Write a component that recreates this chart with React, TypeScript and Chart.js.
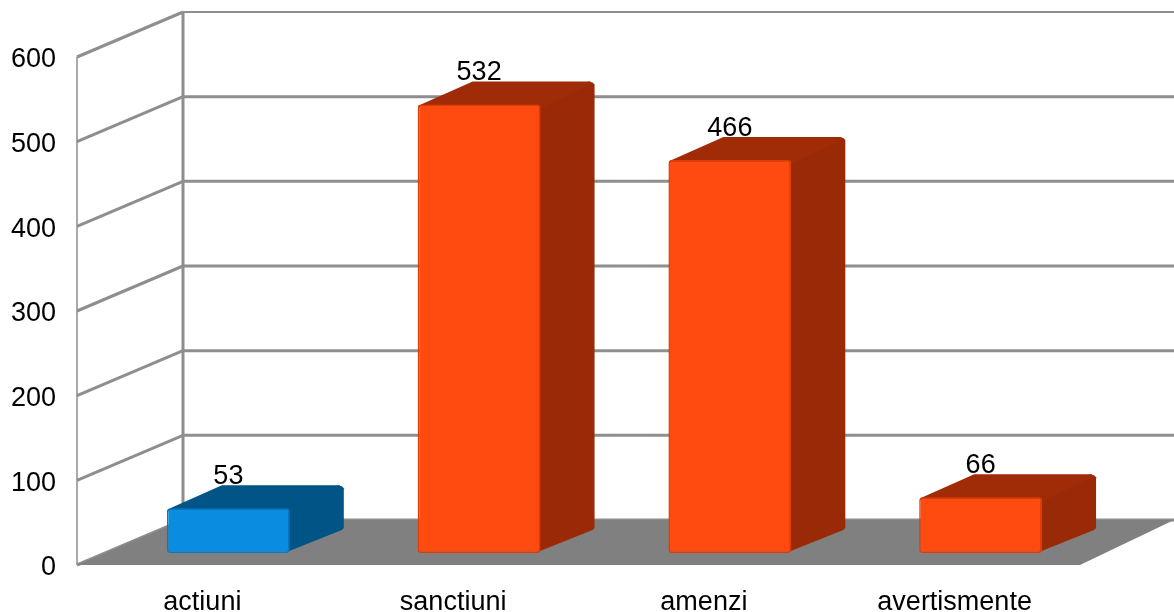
import React, { useEffect, useRef } from "react";
import { Chart, registerables } from "chart.js";

Chart.register(...registerables);

const categories = ["actiuni", "sanctiuni", "amenzi", "avertismente"];
const values = [53, 532, 466, 66];
const yTicks = [0, 100, 200, 300, 400, 500, 600];

const FONT = { family: "'Liberation Sans', Arial, sans-serif", size: 27 };
const WALL_DX = 106;
const WALL_DY = -45;
const BAR_DX = 26;
const BAR_DY = -12;
const SIDE_DX = 54;
const SIDE_DY = -23;
const GRID = "#8e8e8e";
const FLOOR = "#808080";

const palette = (v: number) =>
  v === values[0]
    ? { front: "#0a8ce0", edge: "#0c78c0", side: "#005586", top: "#005586" }
    : { front: "#ff4a10", edge: "#dc3c0a", side: "#9a2a07", top: "#a02c07" };

const poly = (ctx: CanvasRenderingContext2D, pts: number[][], fill: string) => {
  ctx.beginPath();
  pts.forEach(([x, y], i) => (i ? ctx.lineTo(x, y) : ctx.moveTo(x, y)));
  ctx.closePath();
  ctx.fillStyle = fill;
  ctx.fill();
};

const threeD = {
  id: "threeD",
  beforeDatasetsDraw(chart: any) {
    const { ctx, chartArea: a, scales } = chart;
    const yS = scales.y;
    const y0 = yS.getPixelForValue(0);
    const yTop = yS.getPixelForValue(yTicks[yTicks.length - 1]);
    const W = chart.width;
    ctx.save();
    ctx.strokeStyle = GRID;
    ctx.lineWidth = 1.5;
    ctx.beginPath();
    ctx.moveTo(a.left, yTop);
    ctx.lineTo(a.left, y0);
    ctx.stroke();
    ctx.lineWidth = 3;
    ctx.beginPath();
    ctx.moveTo(a.left + WALL_DX, yTop + WALL_DY);
    ctx.lineTo(a.left + WALL_DX, y0 + WALL_DY);
    ctx.stroke();
    yTicks.forEach((t) => {
      const y = yS.getPixelForValue(t);
      ctx.lineWidth = 3;
      ctx.strokeStyle = GRID;
      ctx.beginPath();
      ctx.moveTo(a.left, y);
      ctx.lineTo(a.left + WALL_DX, y + WALL_DY);
      ctx.stroke();
      ctx.lineWidth = t === yTicks[yTicks.length - 1] ? 2 : 3;
      ctx.beginPath();
      ctx.moveTo(a.left + WALL_DX, y + WALL_DY);
      ctx.lineTo(W, y + WALL_DY);
      ctx.stroke();
    });
    poly(
      ctx,
      [
        [a.left, y0],
        [a.left + WALL_DX, y0 + WALL_DY],
        [W, y0 + WALL_DY],
        [a.right, y0],
      ],
      FLOOR
    );
    ctx.restore();
  },
  beforeDatasetDraw(chart: any) {
    const { ctx } = chart;
    ctx.save();
    ctx.translate(BAR_DX, BAR_DY);
    chart.getDatasetMeta(0).data.forEach((el: any, i: number) => {
      const c = palette(values[i]);
      const l = el.x - el.width / 2;
      const r = el.x + el.width / 2;
      poly(
        ctx,
        [
          [r - 3, el.y + 3],
          [r + SIDE_DX - 6, el.y + SIDE_DY],
          [r + SIDE_DX - 2, el.y + SIDE_DY + 1],
          [r + SIDE_DX, el.y + SIDE_DY + 3],
          [r + SIDE_DX, el.base + SIDE_DY - 2],
          [r + SIDE_DX - 2, el.base + SIDE_DY],
          [r - 3, el.base - 1],
        ],
        c.side
      );
      poly(
        ctx,
        [
          [l + 1, el.y + 3],
          [l + 1, el.y + 1],
          [l + SIDE_DX + 1, el.y + SIDE_DY],
          [r + SIDE_DX - 4, el.y + SIDE_DY],
          [r + SIDE_DX - 4, el.y + SIDE_DY + 3],
          [r + 2, el.y + 3],
        ],
        c.top
      );
    });
  },
  afterDatasetDraw(chart: any) {
    chart.ctx.restore();
  },
  afterDatasetsDraw(chart: any) {
    const { ctx } = chart;
    ctx.save();
    ctx.font = `${FONT.size}px ${FONT.family}`;
    ctx.fillStyle = "#000";
    ctx.textAlign = "center";
    ctx.textBaseline = "middle";
    chart.getDatasetMeta(0).data.forEach((el: any, i: number) => {
      ctx.fillText(String(values[i]), el.x + BAR_DX, el.y + BAR_DY - 32);
    });
    ctx.restore();
  },
};

export default function App() {
  const ref = useRef<HTMLCanvasElement>(null);
  useEffect(() => {
    const chart = new Chart(ref.current!, {
      type: "bar",
      data: {
        labels: categories,
        datasets: [
          {
            data: values,
            yAxisID: "yBar",
            backgroundColor: values.map((v) => palette(v).front),
            borderColor: values.map((v) => palette(v).edge),
            borderWidth: 1.5,
            borderRadius: 3,
            borderSkipped: false,
            barPercentage: 0.49,
            categoryPercentage: 1,
            clip: false,
          } as any,
        ],
      },
      options: {
        responsive: false,
        animation: false,
        layout: { padding: { top: 57, right: 94, left: 0, bottom: 0 } },
        plugins: { legend: { display: false }, tooltip: { enabled: false } },
        scales: {
          x: {
            grid: { display: false, drawTicks: false },
            border: { display: false },
            ticks: { font: FONT, color: "#000", padding: 21, maxRotation: 0 },
            afterFit: (s: any) => {
              s.height = 47;
            },
          },
          y: {
            min: 0,
            max: 600,
            grid: { display: false, drawTicks: false },
            border: { display: false },
            afterBuildTicks: (s: any) => {
              s.ticks = yTicks.map((value) => ({ value }));
            },
            ticks: { font: FONT, color: "#000", padding: 21, labelOffset: 3 },
            afterFit: (s: any) => {
              s.width = 77;
            },
          },
          yBar: { display: false, min: 0, max: 602.5 },
        },
      },
      plugins: [threeD],
    } as any);
    return () => chart.destroy();
  }, []);
  return (
    <div style={{ position: "absolute", left: 0, top: 0, width: 1174, height: 612, background: "#fff" }}>
      <canvas ref={ref} width={1174} height={612} style={{ display: "block", filter: "blur(0.6px)" }} />
    </div>
  );
}
